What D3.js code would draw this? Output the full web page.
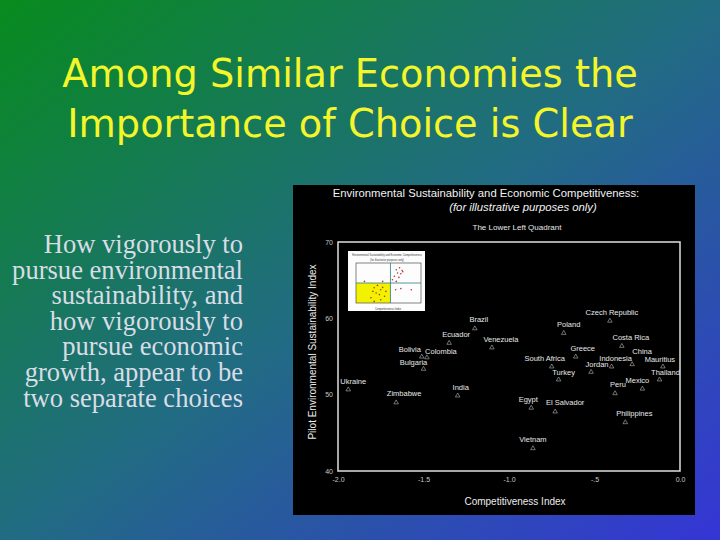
<!DOCTYPE html>
<html>
<head>
<meta charset="utf-8">
<script src="https://cdn.jsdelivr.net/npm/d3@7"></script>
<style>
body { margin: 0; background: #000; }
svg { display: block; }
</style>
</head>
<body>
<div id="slide"></div>
<script>
// countries in the lower left quadrant
var countries = ["Brazil", "Ecuador", "Venezuela", "Bolivia", "Colombia", "Bulgaria",
    "Czech Republic", "Poland", "Costa Rica", "Greece", "China", "Mauritius",
    "Indonesia", "Jordan", "South Africa", "Turkey", "Thailand", "Mexico", "Peru",
    "Egypt", "El Salvador", "Philippines", "Vietnam", "Ukraine", "Zimbabwe", "India"];
var competitiveness = [-1.20, -1.35, -1.10, -1.51, -1.48, -1.50,
    -0.41, -0.68, -0.34, -0.61, -0.28, -0.10,
    -0.40, -0.52, -0.75, -0.71, -0.12, -0.22, -0.38,
    -0.87, -0.73, -0.32, -0.86, -1.94, -1.66, -1.30];
var sustainability = [58.8, 56.9, 56.3, 55.1, 55.0, 53.5,
    59.8, 58.2, 56.5, 55.1, 54.1, 53.8,
    53.8, 53.1, 53.8, 52.1, 52.1, 50.9, 50.3,
    48.4, 47.9, 46.5, 43.1, 50.8, 49.1, 50.0];

var xTicks = [-2, -1.5, -1, -0.5, 0];
var xTickLabels = ["-2.0", "-1.5", "-1.0", "-.5", "0.0"];
var yTicks = [40, 50, 60, 70];

// thumbnail of the full scatter (relative units)
var insetX = [0.62, 0.67, 0.71, 0.64, 0.69, 0.59, 0.66, 0.72, 0.56, 0.62,
    0.28, 0.33, 0.38, 0.26, 0.31, 0.41, 0.36, 0.44, 0.23, 0.46, 0.38, 0.28,
    0.69, 0.85, 0.61, 0.13, 0.41];
var insetY = [0.83, 0.88, 0.81, 0.75, 0.73, 0.67, 0.64, 0.78, 0.58, 0.54,
    0.38, 0.44, 0.33, 0.29, 0.25, 0.39, 0.21, 0.17, 0.13, 0.29, 0.08, 0.04,
    0.36, 0.33, 0.33, 0.54, 0.54];
var insetSplitX = 0.53, insetSplitY = 0.5;

var titleLines = ["Among Similar Economies the", "Importance of Choice is Clear"];
var bodyLines = ["How vigorously to", "pursue environmental", "sustainability, and",
    "how vigorously to", "pursue economic", "growth, appear to be", "two separate choices"];

// label nudges so names sit the way they do on the slide
var labelDx = [4, 7, 9, -12, 14, -10, 2, 5, 9, 7, 10, -3, 4, 6, -7, 5, 6, -5, 3, -3, 10, 9, 0, 5, 8, 3];
var labelDy = [-5, -5, -5, -4, -3, -3, -5, -5, -5, -5, -9, -4, -5, -4, -5, -4, -4, -5, -5, -5, -6, -5, -5, -5, -6, -5];

var W = 720, H = 540;

var svg = d3.select("#slide").append("svg")
    .attr("width", W)
    .attr("height", H)
    .style("font-family", "'Liberation Sans', Arial, sans-serif");

var grad = svg.append("defs").append("linearGradient")
    .attr("id", "bg")
    .attr("x1", 0).attr("y1", 0).attr("x2", 1).attr("y2", 1);
grad.append("stop").attr("offset", 0).attr("stop-color", "#078b1d");
grad.append("stop").attr("offset", 0.5).attr("stop-color", "#216c82");
grad.append("stop").attr("offset", 1).attr("stop-color", "#3535d6");

svg.append("rect")
    .attr("width", W)
    .attr("height", H)
    .attr("fill", "url(#bg)");

// slide title
svg.selectAll("text.title")
    .data(titleLines)
    .enter().append("text")
    .attr("class", "title")
    .attr("x", 350)
    .attr("y", function(d, i) { return 87 + i * 50; })
    .attr("text-anchor", "middle")
    .attr("fill", "#f4f52a")
    .style("font-family", "'DejaVu Sans', Verdana, sans-serif")
    .style("font-size", "38.3px")
    .text(function(d) { return d; });

// body text, sized so the longest line is as wide as on the slide
var body = svg.append("g")
    .style("font-family", "'Liberation Serif', 'Times New Roman', serif")
    .style("font-size", "20px");
var bodyText = body.selectAll("text")
    .data(bodyLines)
    .enter().append("text")
    .attr("x", 243)
    .attr("y", function(d, i) { return 253 + i * 25.6; })
    .attr("text-anchor", "end")
    .attr("fill", "#d9dde6")
    .text(function(d) { return d; });
var widest = d3.max(bodyText.nodes(), function(n) { return n.getComputedTextLength(); });
body.style("font-size", (20 * 231 / widest) + "px");

// the chart image
var chart = svg.append("g");
chart.append("rect")
    .attr("x", 293).attr("y", 185)
    .attr("width", 402).attr("height", 330)
    .attr("fill", "#000");

chart.append("text")
    .attr("x", 486).attr("y", 197)
    .attr("text-anchor", "middle")
    .attr("fill", "#f2f2f2")
    .style("font-size", "11.3px")
    .text("Environmental Sustainability and Economic Competitiveness:");
chart.append("text")
    .attr("x", 523).attr("y", 211)
    .attr("text-anchor", "middle")
    .attr("fill", "#f2f2f2")
    .style("font-size", "11.3px")
    .style("font-style", "italic")
    .text("(for illustrative purposes only)");
chart.append("text")
    .attr("x", 517).attr("y", 230)
    .attr("text-anchor", "middle")
    .attr("fill", "#e6e6e6")
    .style("font-size", "8px")
    .text("The Lower Left Quadrant");

var x = d3.scaleLinear().domain([-2, 0]).range([338, 680]);
var y = d3.scaleLinear().domain([40, 70]).range([471, 242]);

var xAxis = d3.axisBottom(x)
    .tickValues(xTicks)
    .tickSize(0)
    .tickPadding(6)
    .tickFormat(function(d, i) { return xTickLabels[i]; });
chart.append("g")
    .attr("transform", "translate(0," + y(40) + ")")
    .call(xAxis)
    .call(function(g) { g.select(".domain").remove(); })
    .selectAll("text")
    .attr("fill", "#c8c8c8")
    .style("font-size", "7px");

var yAxis = d3.axisLeft(y)
    .tickValues(yTicks)
    .tickSize(0)
    .tickPadding(5);
chart.append("g")
    .attr("transform", "translate(" + x(-2) + ",0)")
    .call(yAxis)
    .call(function(g) { g.select(".domain").remove(); })
    .selectAll("text")
    .attr("fill", "#c8c8c8")
    .style("font-size", "7px");

chart.append("rect")
    .attr("x", x(-2)).attr("y", y(70))
    .attr("width", x(0) - x(-2))
    .attr("height", y(40) - y(70))
    .attr("fill", "none")
    .attr("stroke", "#e0e0e0")
    .attr("stroke-width", 1.5);

chart.append("text")
    .attr("x", 515).attr("y", 505)
    .attr("text-anchor", "middle")
    .attr("fill", "#ececec")
    .style("font-size", "10px")
    .text("Competitiveness Index");
chart.append("text")
    .attr("transform", "translate(316,352) rotate(-90)")
    .attr("text-anchor", "middle")
    .attr("fill", "#ececec")
    .style("font-size", "10px")
    .text("Pilot Environmental Sustainability Index");

// inset thumbnail
var ix = d3.scaleLinear().domain([0, 1]).range([356, 421]);
var iy = d3.scaleLinear().domain([0, 1]).range([303, 263]);
var inset = chart.append("g");
inset.append("rect")
    .attr("x", 348).attr("y", 251)
    .attr("width", 77).attr("height", 60)
    .attr("fill", "#fdfdfd");
inset.append("rect")
    .attr("x", ix(0)).attr("y", iy(insetSplitY))
    .attr("width", ix(insetSplitX) - ix(0))
    .attr("height", iy(0) - iy(insetSplitY))
    .attr("fill", "#f2f200");
inset.append("rect")
    .attr("x", ix(0)).attr("y", iy(1))
    .attr("width", ix(1) - ix(0))
    .attr("height", iy(0) - iy(1))
    .attr("fill", "none")
    .attr("stroke", "#333")
    .attr("stroke-width", 0.6);
inset.append("line")
    .attr("x1", ix(insetSplitX)).attr("x2", ix(insetSplitX))
    .attr("y1", iy(0)).attr("y2", iy(1))
    .attr("stroke", "#2b7c80").attr("stroke-width", 0.8);
inset.append("line")
    .attr("x1", ix(0)).attr("x2", ix(1))
    .attr("y1", iy(insetSplitY)).attr("y2", iy(insetSplitY))
    .attr("stroke", "#2b7c80").attr("stroke-width", 0.8);
inset.selectAll("circle")
    .data(insetX)
    .enter().append("circle")
    .attr("cx", function(d) { return ix(d); })
    .attr("cy", function(d, i) { return iy(insetY[i]); })
    .attr("r", 0.8)
    .attr("fill", "#b4333a");
inset.append("text")
    .attr("x", 387).attr("y", 256)
    .attr("text-anchor", "middle")
    .attr("fill", "#333")
    .style("font-size", "2.6px")
    .text("Environmental Sustainability and Economic Competitiveness");
inset.append("text")
    .attr("x", 387).attr("y", 261)
    .attr("text-anchor", "middle")
    .attr("fill", "#333")
    .style("font-size", "2.6px")
    .text("(for illustrative purposes only)");
inset.append("text")
    .attr("x", 388).attr("y", 310)
    .attr("text-anchor", "middle")
    .attr("fill", "#333")
    .style("font-size", "2.6px")
    .text("Competitiveness Index");

// country markers and names
var tri = d3.symbol().type(d3.symbolTriangle).size(9);
chart.selectAll("path.pt")
    .data(countries)
    .enter().append("path")
    .attr("class", "pt")
    .attr("d", tri)
    .attr("transform", function(d, i) {
        return "translate(" + x(competitiveness[i]) + "," + (y(sustainability[i]) + 1) + ")";
    })
    .attr("fill", "none")
    .attr("stroke", "#b8b8b8")
    .attr("stroke-width", 0.6);

chart.selectAll("text.name")
    .data(countries)
    .enter().append("text")
    .attr("class", "name")
    .attr("x", function(d, i) { return x(competitiveness[i]) + labelDx[i]; })
    .attr("y", function(d, i) { return y(sustainability[i]) + labelDy[i]; })
    .attr("text-anchor", "middle")
    .attr("fill", "#e8e8e8")
    .style("font-size", "7.5px")
    .text(function(d) { return d; });
</script>
</body>
</html>
